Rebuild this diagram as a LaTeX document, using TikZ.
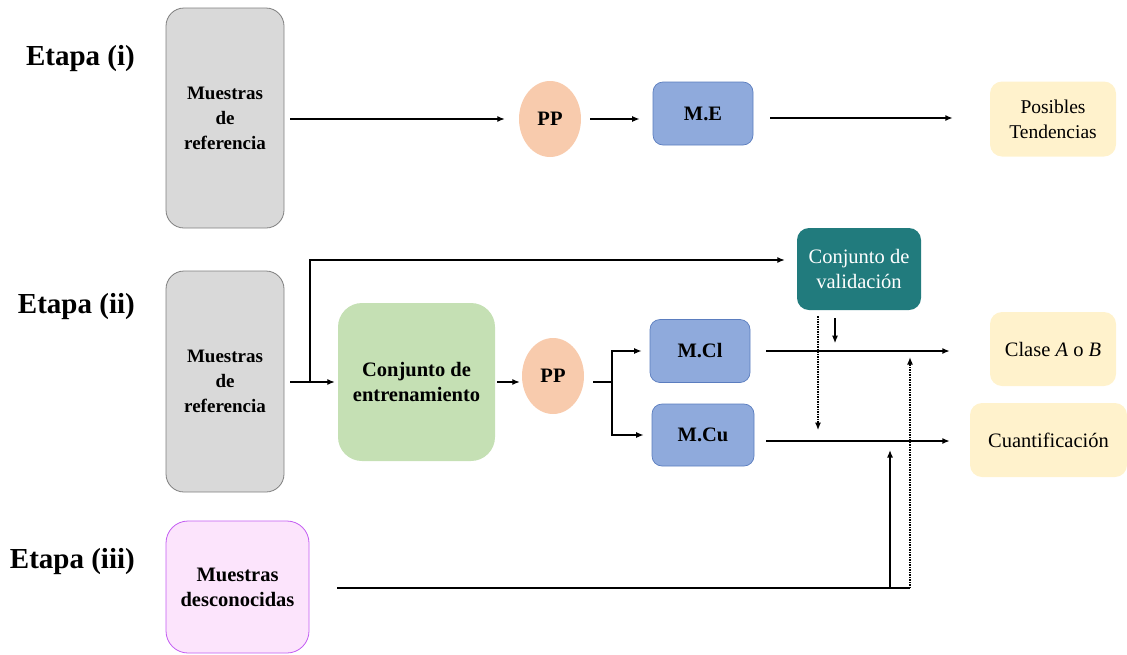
\documentclass[tikz,border=0pt]{standalone}
\usepackage{fontspec}
\setmainfont{Liberation Serif}
\newfontfamily\tnr{Liberation Serif}
\usetikzlibrary{arrows.meta,shapes.geometric}
\definecolor{refgray}{HTML}{D9D9D9}
\definecolor{refedge}{HTML}{7F7F7F}
\definecolor{trainfill}{HTML}{C5E0B4}
\definecolor{ppfill}{HTML}{F8CBAD}
\definecolor{modfill}{HTML}{8FAADC}
\definecolor{modedge}{HTML}{5B7DBF}
\definecolor{valfill}{HTML}{217B7D}
\definecolor{outfill}{HTML}{FFF2CC}
\definecolor{unkfill}{HTML}{FCE4FC}
\definecolor{unkedge}{HTML}{C35CF2}
\tikzset{
  base/.style={align=center, inner sep=2pt, font=\tnr\fontsize{20.5}{25}\selectfont},
  boldtext/.style={font=\tnr\fontsize{20.5}{25}\selectfont\bfseries},
  refbox/.style={base, rectangle, rounded corners=18pt, fill=refgray, draw=refedge, line width=0.8pt, font=\tnr\fontsize{19}{25}\selectfont\bfseries},
  trainbox/.style={base, boldtext, rectangle, rounded corners=24pt, fill=trainfill},
  ppnode/.style={base, boldtext, ellipse, fill=ppfill, minimum width=62pt, minimum height=76pt},
  modbox/.style={base, boldtext, rectangle, rounded corners=10pt, fill=modfill, draw=modedge, line width=0.7pt},
  valbox/.style={base, rectangle, rounded corners=12pt, fill=valfill, text=white},
  outbox/.style={base, rectangle, rounded corners=12pt, fill=outfill},
  unkbox/.style={base, boldtext, rectangle, rounded corners=22pt, fill=unkfill, draw=unkedge, line width=0.8pt},
  stage/.style={anchor=base east, inner sep=0pt, font=\tnr\fontsize{29}{32}\selectfont\bfseries},
  arr/.style={-{Latex[length=7.5pt,width=6pt]}, line width=1.3pt},
  thickarr/.style={-{Latex[length=7.5pt,width=6pt]}, line width=2pt},
  dotarr/.style={-{Latex[length=7.5pt,width=6pt]}, line width=1.5pt, densely dotted},
}
\begin{document}
\begin{tikzpicture}[x=1pt,y=-1pt]
\useasboundingbox (0,0) rectangle (1127,654);

% stage labels
\node[stage] (s1) at (135,65) {Etapa (i)};
\node[stage] (s2) at (135,313) {Etapa (ii)};
\node[stage] (s3) at (135,568) {Etapa (iii)};

% ---------- stage (i) ----------
\node[refbox, minimum width=118pt, minimum height=220pt] (ref1) at (225,118) {Muestras\\de\\referencia};
\node[ppnode] (pp1) at (550,119) {PP};
\node[modbox, minimum width=100pt, minimum height=63pt] (me) at (703,113.5) {M.E};
\node[outbox, minimum width=126pt, minimum height=75pt, font=\tnr\fontsize{19.5}{25}\selectfont] (tend) at (1053,119) {Posibles\\Tendencias};

\draw[arr, shorten <=6pt, shorten >=14pt] (ref1.east |- pp1) -- (pp1.west);
\draw[arr, shorten <=9pt, shorten >=13pt] (pp1.east) -- (me.west |- pp1);
\draw[thickarr, shorten <=17pt, shorten >=37pt] (me.east |- 0,118) -- (tend.west |- 0,118);

% ---------- stage (ii) ----------
\node[refbox, minimum width=118pt, minimum height=221pt] (ref2) at (225,381.5) {Muestras\\de\\referencia};
\node[trainbox, minimum width=157pt, minimum height=158pt] (train) at (416.5,382) {Conjunto de\\entrenamiento};
\node[ppnode] (pp2) at (553,376) {PP};
\node[modbox, minimum width=100pt, minimum height=63pt] (mcl) at (700,351) {M.Cl};
\node[modbox, minimum width=102pt, minimum height=62pt] (mcu) at (703,435) {M.Cu};
\node[valbox, minimum width=124pt, minimum height=82pt] (val) at (859,269) {Conjunto de\\validación};
\node[outbox, minimum width=126pt, minimum height=74pt] (clase) at (1053,349) {Clase \textit{A} o \textit{B}};
\node[outbox, minimum width=157pt, minimum height=74pt] (cuant) at (1048.5,440) {Cuantificación};

\coordinate (split) at (310,382);
\coordinate (fork) at (612,382);

\draw[line width=1.3pt, shorten <=6pt] (ref2.east |- split) -- (split);
\draw[arr, shorten >=3pt] (split) -- (train.west |- split);
\draw[arr, shorten >=12pt] (split) |- ([yshift=9pt]val.west);
\draw[arr, shorten <=2pt, shorten >=2pt] (train.east |- split) -- (pp2.west |- split);
\draw[line width=1.3pt, shorten <=9pt] (pp2.east |- fork) -- (fork);
\draw[arr, shorten >=8pt] (fork) |- (mcl.west);
\draw[arr, shorten >=8pt] (fork) |- (mcu.west);

\draw[line width=1.6pt, -{Latex[length=7.5pt,width=6pt]}, shorten <=16pt, shorten >=40pt] (mcl.east) -- (clase.west |- mcl);
\draw[line width=1.6pt, -{Latex[length=7.5pt,width=6pt]}, shorten <=12pt, shorten >=20pt] (mcu.east |- 0,441) -- (cuant.west |- 0,441);

\draw[arr, shorten <=8pt] ([xshift=-24pt]val.south) -- ++(0,33);
\draw[dotarr, shorten <=6pt] ([xshift=-41pt]val.south) -- ++(0,120);

% ---------- stage (iii) ----------
\node[unkbox, minimum width=143pt, minimum height=132pt] (unk) at (237.5,587) {Muestras\\desconocidas};
\coordinate (join) at (890,588);
\coordinate (jointwo) at (910,588);
\draw[line width=2pt, shorten <=28pt] (unk.east |- join) -- (jointwo);
\draw[arr] (join) -- (join |- 0,450);
\draw[dotarr] (jointwo) -- (jointwo |- 0,357);
\end{tikzpicture}
\end{document}
